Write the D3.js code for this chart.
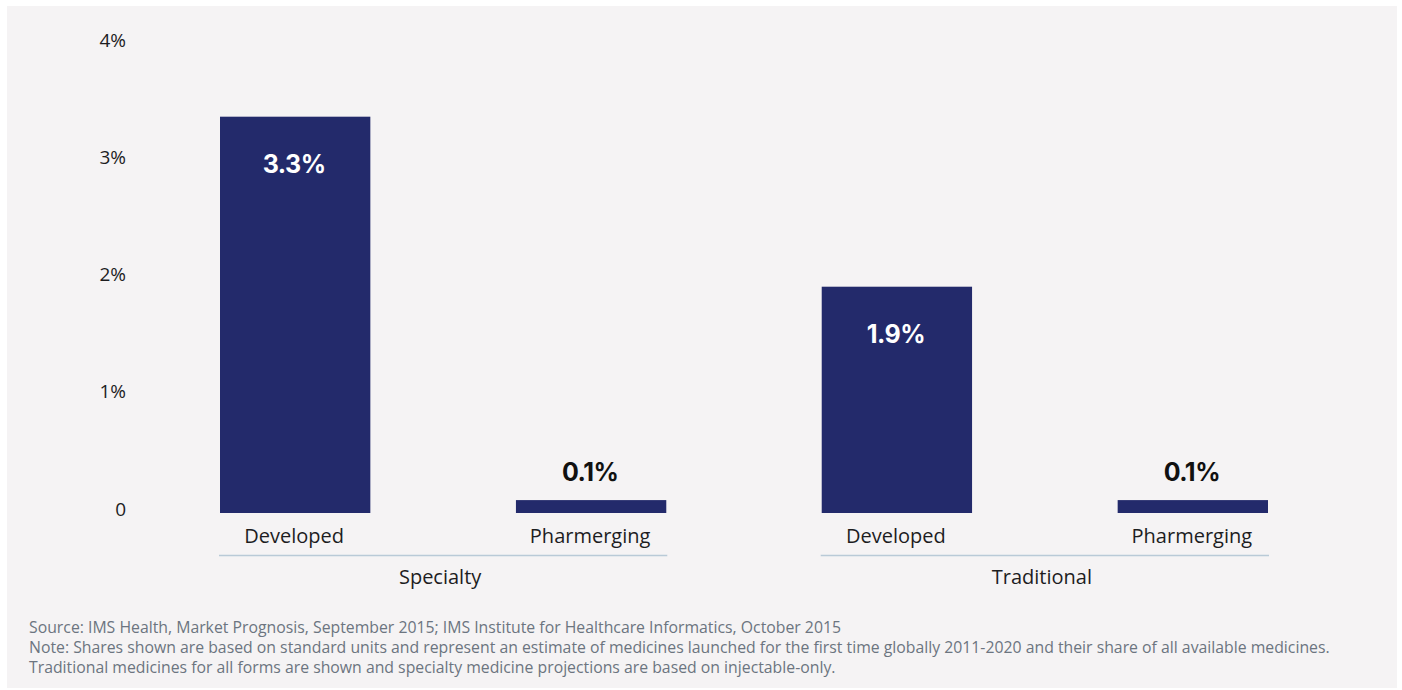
<!DOCTYPE html>
<html>
<head>
<meta charset="utf-8">
<script src="https://cdn.jsdelivr.net/npm/d3@7"></script>
<style>
  body { margin: 0; background: #ffffff; }
  svg { display: block; }
  .tick text { font-family: "Open Sans", sans-serif; font-size: 19px; fill: #1d1d1f; }
  .cat { font-family: "Open Sans", sans-serif; font-size: 20px; fill: #1d1d1f; }
  .val { font-family: Inter, sans-serif; font-size: 25px; font-weight: 700; letter-spacing: -0.5px; }
  .note { font-family: "Open Sans", sans-serif; font-size: 15.8px; fill: #6c7580; }
</style>
</head>
<body>
<div id="chart"></div>
<script>
var groups = ["Specialty", "Traditional"];
var markets = ["Developed", "Pharmerging"];
var specialtyValues = [3.38, 0.11];
var traditionalValues = [1.93, 0.11];
var specialtyLabels = ["3.3%", "0.1%"];
var traditionalLabels = ["1.9%", "0.1%"];
var yTicks = [0, 1, 2, 3, 4];
var yTickLabels = ["0", "1%", "2%", "3%", "4%"];
var notes = [
  "Source: IMS Health, Market Prognosis, September 2015; IMS Institute for Healthcare Informatics, October 2015",
  "Note: Shares shown are based on standard units and represent an estimate of medicines launched for the first time globally 2011-2020 and their share of all available medicines.",
  "Traditional medicines for all forms are shown and specialty medicine projections are based on injectable-only."
];

var W = 1402, H = 690;
var barColor = "#232a6b";

var data = [];
groups.forEach(function(g, gi) {
  var vals = gi === 0 ? specialtyValues : traditionalValues;
  var labs = gi === 0 ? specialtyLabels : traditionalLabels;
  markets.forEach(function(m, mi) {
    data.push({group: g, market: m, value: vals[mi], label: labs[mi]});
  });
});

var svg = d3.select("#chart").append("svg")
    .attr("width", W)
    .attr("height", H);

// panel background
svg.append("rect")
    .attr("x", 7).attr("y", 6)
    .attr("width", 1390).attr("height", 682)
    .attr("fill", "#f5f3f4");

var x0 = d3.scaleBand()
    .domain(groups)
    .range([219, 1269])
    .paddingInner(0.255)
    .paddingOuter(0);

var x1 = d3.scaleBand()
    .domain(markets)
    .range([1, x0.bandwidth() - 1])
    .paddingInner(0.492)
    .paddingOuter(0);

var y = d3.scaleLinear()
    .domain([0, 4])
    .range([513, 44]);

// y axis labels only
var yAxis = svg.append("g")
    .attr("transform", "translate(126,-4)")
    .call(d3.axisLeft(y)
      .tickValues(yTicks)
      .tickSize(0)
      .tickPadding(0)
      .tickFormat(function(d, i) { return yTickLabels[i]; }));
yAxis.select(".domain").remove();

var bars = svg.append("g")
  .selectAll("g")
  .data(data)
  .enter().append("g")
    .attr("transform", function(d) { return "translate(" + (x0(d.group) + x1(d.market)) + ",0)"; });

bars.append("rect")
    .attr("x", 0)
    .attr("y", function(d) { return y(d.value); })
    .attr("width", x1.bandwidth())
    .attr("height", function(d) { return y(0) - y(d.value); })
    .attr("fill", barColor);

bars.append("text")
    .attr("class", "val")
    .attr("x", x1.bandwidth() / 2 - 1)
    .attr("y", function(d) { return d.value > 1 ? y(d.value) + 56 : y(d.value) - 19; })
    .attr("text-anchor", "middle")
    .attr("fill", function(d) { return d.value > 1 ? "#ffffff" : "#111111"; })
    .text(function(d) { return d.label; });

bars.append("text")
    .attr("class", "cat")
    .attr("x", x1.bandwidth() / 2 - 1)
    .attr("y", 543)
    .attr("text-anchor", "middle")
    .text(function(d) { return d.market; });

// group lines and names
var grp = svg.append("g")
  .selectAll("g")
  .data(groups)
  .enter().append("g")
    .attr("transform", function(d) { return "translate(" + x0(d) + ",0)"; });

grp.append("line")
    .attr("x1", 0)
    .attr("x2", x0.bandwidth())
    .attr("y1", 555.5)
    .attr("y2", 555.5)
    .attr("stroke", "#b9cad7")
    .attr("stroke-width", 1.5);

grp.append("text")
    .attr("class", "cat")
    .attr("x", x0.bandwidth() / 2 - 3)
    .attr("y", 584)
    .attr("text-anchor", "middle")
    .text(function(d) { return d; });

svg.append("g")
  .selectAll("text")
  .data(notes)
  .enter().append("text")
    .attr("class", "note")
    .attr("x", 29)
    .attr("y", function(d, i) { return 633 + i * 20; })
    .text(function(d) { return d; });
</script>
</body>
</html>
